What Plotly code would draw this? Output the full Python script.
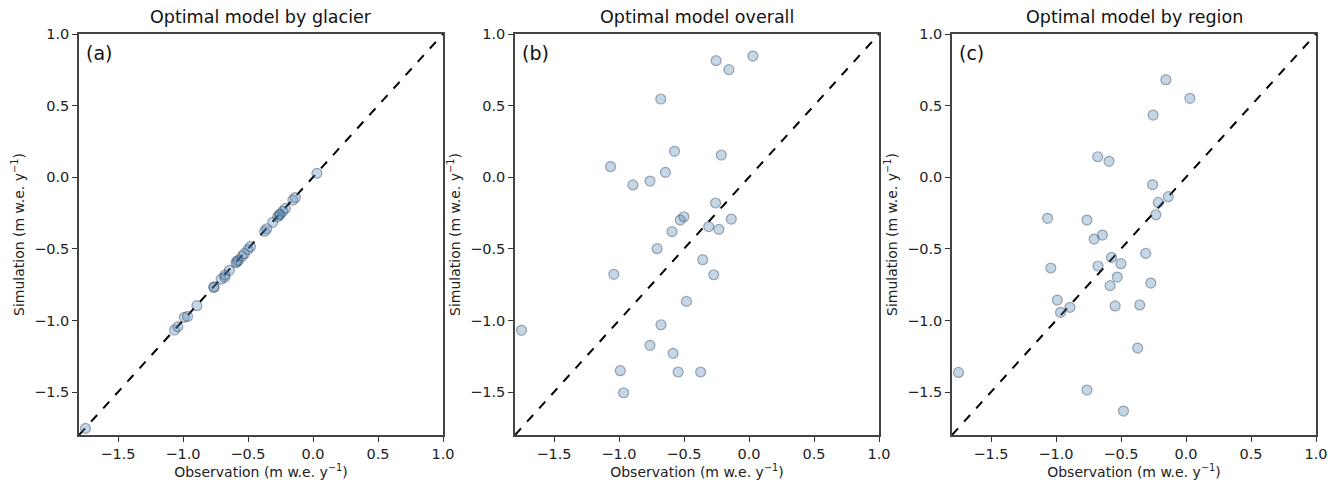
import plotly.graph_objects as go

# Observed mass balance (m w.e. y-1), one per glacier
observation = [-1.75, -1.065, -1.04, -0.99, -0.965, -0.893, -0.762, -0.762, -0.707, -0.679,
               -0.677, -0.643, -0.592, -0.584, -0.573, -0.545, -0.529, -0.501, -0.481, -0.372,
               -0.356, -0.31, -0.271, -0.257, -0.253, -0.232, -0.213, -0.155, -0.136, 0.03]

# (a) optimal model by glacier
sim_by_glacier = [-1.754, -1.067, -1.045, -0.978, -0.972, -0.897, -0.769, -0.766, -0.712, -0.699,
                  -0.683, -0.650, -0.597, -0.588, -0.579, -0.552, -0.534, -0.505, -0.485, -0.377,
                  -0.360, -0.315, -0.276, -0.262, -0.258, -0.238, -0.218, -0.160, -0.142, 0.027]

# (b) optimal model overall
sim_overall = [-1.069, 0.074, -0.678, -1.351, -1.505, -0.054, -0.027, -1.174, -0.499, 0.546,
               -1.030, 0.034, -0.380, -1.230, 0.181, -1.360, -0.299, -0.276, -0.867, -1.360,
               -0.576, -0.345, -0.681, -0.180, 0.814, -0.364, 0.155, 0.751, -0.292, 0.846]

# (c) optimal model by region
sim_by_region = [-1.363, -0.287, -0.634, -0.858, -0.944, -0.909, -0.299, -1.486, -0.432, 0.143,
                 -0.620, -0.404, 0.111, -0.757, -0.560, -0.899, -0.697, -0.604, -1.633, -1.193,
                 -0.892, -0.532, -0.739, -0.052, 0.434, -0.262, -0.176, 0.681, -0.136, 0.551]

titles = ["Optimal model by glacier", "Optimal model overall", "Optimal model by region"]
panel_labels = ["(a)", "(b)", "(c)"]
axis_limits = [-1.8, 1.0]
tick_values = [-1.5, -1.0, -0.5, 0.0, 0.5, 1.0]
x_title = "Observation (m w.e. y<sup>−1</sup>)"
y_title = "Simulation (m w.e. y<sup>−1</sup>)"

W, H = 1339, 484
x_domains = [(79, 443), (515, 879), (952, 1316)]
y_top, y_bot = 34, 435

FONT = "DejaVu Sans"
fig = go.Figure()
series = [sim_by_glacier, sim_overall, sim_by_region]

for i, sim in enumerate(series):
    sfx = "" if i == 0 else str(i + 1)
    xa, ya = "x" + sfx, "y" + sfx
    fig.add_trace(go.Scatter(
        x=axis_limits, y=axis_limits, mode="lines",
        line=dict(color="black", width=2, dash="dash"),
        xaxis=xa, yaxis=ya, showlegend=False, hoverinfo="skip"))
    fig.add_trace(go.Scatter(
        x=observation, y=sim, mode="markers",
        marker=dict(size=10, color="rgba(70,130,180,0.32)",
                    line=dict(color="rgba(50,60,80,0.42)", width=1.2)),
        xaxis=xa, yaxis=ya, showlegend=False))

    d = x_domains[i]
    axis_common = dict(range=axis_limits, tickvals=tick_values, tickformat=".1f",
                       ticks="outside", ticklen=5, tickwidth=1, tickcolor="#333",
                       showline=True, linecolor="#444", linewidth=1.5, mirror=True,
                       showgrid=False, zeroline=False, automargin=False,
                       tickfont=dict(family=FONT, size=14.5, color="#222"))
    fig.update_layout(**{
        ("xaxis" + sfx): dict(domain=[d[0] / W, d[1] / W], anchor=ya,
                              title=dict(text=x_title, font=dict(family=FONT, size=14, color="#222"), standoff=4),
                              **axis_common),
        ("yaxis" + sfx): dict(domain=[1 - y_bot / H, 1 - y_top / H], anchor=xa,
                              title=dict(text=y_title, font=dict(family=FONT, size=14, color="#222"), standoff=6),
                              **axis_common),
    })
    fig.add_annotation(text=titles[i], xref="paper", yref="paper",
                       x=(d[0] + d[1]) / 2 / W, y=1 - 17 / H, xanchor="center", yanchor="middle",
                       showarrow=False, font=dict(family=FONT, size=17.5, color="#111"))
    fig.add_annotation(text=panel_labels[i], xref=xa + " domain", yref=ya + " domain",
                       x=0.015, y=0.985, xanchor="left", yanchor="top",
                       showarrow=False, font=dict(family=FONT, size=19, color="#111"))

fig.update_layout(width=W, height=H, margin=dict(l=0, r=0, t=0, b=0),
                  paper_bgcolor="white", plot_bgcolor="white",
                  font=dict(family=FONT))
fig.write_html("out.html", config={"displayModeBar": False},
               post_script="document.body.style.margin='0';document.body.style.overflow='hidden';")
